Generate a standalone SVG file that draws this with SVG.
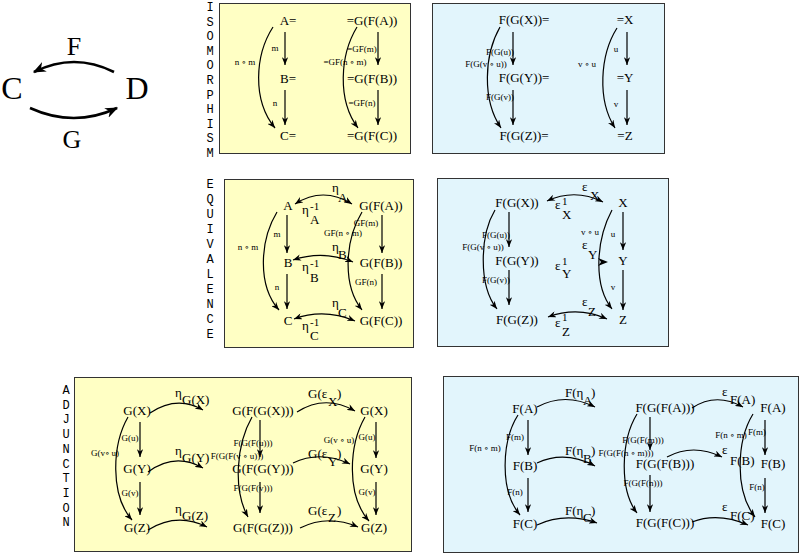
<svg xmlns="http://www.w3.org/2000/svg" width="800" height="555" viewBox="0 0 800 555">
<style>
.b{font-family:"Liberation Serif","DejaVu Serif",serif;font-size:13px;fill:#000}
.m{text-anchor:middle}
.s{font-family:"Liberation Serif","DejaVu Serif",serif;font-size:9px;fill:#000;text-anchor:middle}
.sup{font-size:11px}
.side{font-family:"Liberation Mono","DejaVu Sans Mono",monospace;font-size:12px;text-anchor:middle;fill:#000}
.y{fill:#ffffc4;stroke:#333;stroke-width:1}
.c{fill:#e2f5fc;stroke:#333;stroke-width:1}
.a{fill:none;stroke:#000;stroke-width:1.2;marker-end:url(#ah)}
.d{fill:none;stroke:#000;stroke-width:1.2;marker-end:url(#ah);marker-start:url(#ah)}
.big{fill:none;stroke:#000;stroke-width:2.6;marker-end:url(#bh)}
</style>
<defs>
<marker id="ah" viewBox="0 0 10 8" refX="10" refY="4" markerWidth="8" markerHeight="6.4" markerUnits="userSpaceOnUse" orient="auto-start-reverse">
<path d="M0,0 L10,4 L0,8 L3,4 z" fill="#000"/>
</marker>
<marker id="bh" viewBox="0 0 10 8" refX="9" refY="4" markerWidth="13" markerHeight="10.4" markerUnits="userSpaceOnUse" orient="auto">
<path d="M0,0 L10,4 L0,8 L3,4 z" fill="#000"/>
</marker>
</defs>
<rect width="800" height="555" fill="#fff"/>

<!-- panels -->
<g id="panels">
<rect class="y" x="219.5" y="3.5" width="191" height="150"/>
<rect class="c" x="432.5" y="3.5" width="232" height="150"/>
<rect class="y" x="224.5" y="179.5" width="189" height="168"/>
<rect class="c" x="437.5" y="178.5" width="231" height="168"/>
<rect class="y" x="74.5" y="377.5" width="337" height="174"/>
<rect class="c" x="443.5" y="376.5" width="355" height="176"/>
</g>

<g id="side-labels">
<g id="isomorphism-label" class="side">
<text x="210" y="11">I</text><text x="210" y="25.6">S</text><text x="210" y="40.2">O</text><text x="210" y="54.8">M</text><text x="210" y="69.4">O</text><text x="210" y="84">R</text><text x="210" y="98.6">P</text><text x="210" y="113.2">H</text><text x="210" y="127.8">I</text><text x="210" y="142.4">S</text><text x="210" y="157">M</text>
</g>
<g id="equivalence-label" class="side">
<text x="210" y="188">E</text><text x="210" y="203">Q</text><text x="210" y="218">U</text><text x="210" y="233">I</text><text x="210" y="248">V</text><text x="210" y="263">A</text><text x="210" y="278">L</text><text x="210" y="293">E</text><text x="210" y="308">N</text><text x="210" y="323">C</text><text x="210" y="338">E</text>
</g>
<g id="adjunction-label" class="side">
<text x="66" y="394">A</text><text x="66" y="408.7">D</text><text x="66" y="423.4">J</text><text x="66" y="438.1">U</text><text x="66" y="452.8">N</text><text x="66" y="467.5">C</text><text x="66" y="482.2">T</text><text x="66" y="496.9">I</text><text x="66" y="511.6">O</text><text x="66" y="526.3">N</text>
</g>
</g>

<!-- C / D -->
<g id="node-C"><text class="b m" x="12" y="99" style="font-size:32px">C</text></g>
<g id="node-D"><text class="b m" x="137" y="99" style="font-size:32px">D</text></g>

<!-- isomorphism yellow nodes -->
<g id="iso-A"><text class="b m" x="288" y="25">A=</text></g>
<g id="iso-B"><text class="b m" x="288" y="83">B=</text></g>
<g id="iso-C"><text class="b m" x="288" y="140">C=</text></g>
<g id="iso-GFA"><text class="b m" x="372" y="25">=G(F(A))</text></g>
<g id="iso-GFB"><text class="b m" x="372" y="83">=G(F(B))</text></g>
<g id="iso-GFC"><text class="b m" x="372" y="140">=G(F(C))</text></g>

<!-- isomorphism blue nodes -->
<g id="iso-FGX"><text class="b m" x="524" y="24">F(G(X))=</text></g>
<g id="iso-FGY"><text class="b m" x="524" y="82">F(G(Y))=</text></g>
<g id="iso-FGZ"><text class="b m" x="524" y="140">F(G(Z))=</text></g>
<g id="iso-X"><text class="b m" x="625" y="24">=X</text></g>
<g id="iso-Y"><text class="b m" x="625" y="82">=Y</text></g>
<g id="iso-Z"><text class="b m" x="625" y="140">=Z</text></g>

<!-- equivalence yellow nodes -->
<g id="eq-A"><text class="b m" x="288" y="210">A</text></g>
<g id="eq-B"><text class="b m" x="288" y="267">B</text></g>
<g id="eq-C"><text class="b m" x="288" y="325">C</text></g>
<g id="eq-GFA"><text class="b m" x="381" y="210">G(F(A))</text></g>
<g id="eq-GFB"><text class="b m" x="381" y="267">G(F(B))</text></g>
<g id="eq-GFC"><text class="b m" x="381" y="325">G(F(C))</text></g>

<!-- equivalence blue nodes -->
<g id="eq-FGX"><text class="b m" x="517" y="207">F(G(X))</text></g>
<g id="eq-FGY"><text class="b m" x="517" y="265">F(G(Y))</text></g>
<g id="eq-FGZ"><text class="b m" x="517" y="324">F(G(Z))</text></g>
<g id="eq-X"><text class="b m" x="623" y="207">X</text></g>
<g id="eq-Y"><text class="b m" x="623" y="265">Y</text></g>
<g id="eq-Z"><text class="b m" x="623" y="324">Z</text></g>

<!-- adjunction yellow nodes -->
<g id="adj-GX"><text class="b m" x="137" y="415">G(X)</text></g>
<g id="adj-GY"><text class="b m" x="137" y="473">G(Y)</text></g>
<g id="adj-GZ"><text class="b m" x="137" y="532">G(Z)</text></g>
<g id="adj-GFGX"><text class="b m" x="263" y="415">G(F(G(X)))</text></g>
<g id="adj-GFGY"><text class="b m" x="263" y="473">G(F(G(Y)))</text></g>
<g id="adj-GFGZ"><text class="b m" x="263" y="532">G(F(G(Z)))</text></g>
<g id="adj-GX2"><text class="b m" x="374" y="415">G(X)</text></g>
<g id="adj-GY2"><text class="b m" x="374" y="473">G(Y)</text></g>
<g id="adj-GZ2"><text class="b m" x="374" y="532">G(Z)</text></g>

<!-- adjunction blue nodes -->
<g id="adj-FA"><text class="b m" x="525" y="413">F(A)</text></g>
<g id="adj-FB"><text class="b m" x="525" y="470">F(B)</text></g>
<g id="adj-FC"><text class="b m" x="525" y="528">F(C)</text></g>
<g id="adj-FGFA"><text class="b m" x="665" y="412">F(G(F(A)))</text></g>
<g id="adj-FGFB"><text class="b m" x="665" y="468">F(G(F(B)))</text></g>
<g id="adj-FGFC"><text class="b m" x="665" y="527">F(G(F(C)))</text></g>
<g id="adj-FA2"><text class="b m" x="773" y="412">F(A)</text></g>
<g id="adj-FB2"><text class="b m" x="773" y="468">F(B)</text></g>
<g id="adj-FC2"><text class="b m" x="773" y="528">F(C)</text></g>

<g id="connectors">
<!-- C/D functors -->
<path class="big" d="M114,72 Q74,52 34,72"/>
<path class="big" d="M30,108 Q74,128 117,108"/>
<text class="b m" x="74" y="55" style="font-size:26px">F</text>
<text class="b m" x="72" y="148" style="font-size:26px">G</text>

<!-- iso yellow -->
<path class="a" d="M285,32 L285,65"/>
<path class="a" d="M285,90 L285,125"/>
<path class="a" d="M273,27 C255,55 252,100 275,128"/>
<path class="a" d="M378,32 L378,65"/>
<path class="a" d="M378,90 L378,125"/>
<path class="a" d="M357,27 C340,55 337,100 358,128"/>
<text class="s" x="275" y="51">m</text>
<text class="s" x="275" y="106">n</text>
<text class="s" x="245" y="65">n ∘ m</text>
<text class="s" x="362" y="52">=GF(m)</text>
<text class="s" x="362" y="106">=GF(n)</text>
<text class="s" x="345" y="65">=GF(n ∘ m)</text>

<!-- iso blue -->
<path class="a" d="M513,32 L513,65"/>
<path class="a" d="M513,90 L513,125"/>
<path class="a" d="M500,27 C484,55 482,100 501,128"/>
<path class="a" d="M627,32 L627,65"/>
<path class="a" d="M627,90 L627,125"/>
<path class="a" d="M617,28 C600,55 597,100 615,128"/>
<text class="s" x="500" y="55">F(G(u))</text>
<text class="s" x="500" y="100">F(G(v))</text>
<text class="s" x="486" y="67">F(G(v ∘ u))</text>
<text class="s" x="616" y="52">u</text>
<text class="s" x="616" y="107">v</text>
<text class="s" x="587" y="67">v ∘ u</text>

<!-- eq yellow -->
<path class="a" d="M287,215 L287,253"/>
<path class="a" d="M287,274 L287,309"/>
<path class="a" d="M277,212 C260,240 257,285 279,310"/>
<path class="a" d="M382,215 L382,253"/>
<path class="a" d="M382,274 L382,309"/>
<path class="a" d="M362,212 C345,240 342,285 362,310"/>
<path class="d" d="M295,204 Q323,186 352,204"/>
<path class="d" d="M293,260 Q323,250 353,262"/>
<path class="d" d="M294,319 Q324,308 355,321"/>
<text class="s" x="277" y="237">m</text>
<text class="s" x="277" y="290">n</text>
<text class="s" x="248" y="250">n ∘ m</text>
<text class="s" x="366" y="226">GF(m)</text>
<text class="s" x="366" y="285">GF(n)</text>
<text class="s" x="343" y="236">GF(n ∘ m)</text>
<text class="b" x="332" y="192">η</text><text class="b" x="338" y="202">A</text>
<text class="b" x="302" y="214">η</text><text class="b sup" x="310" y="210">-1</text><text class="b" x="310" y="224">A</text>
<text class="b" x="332" y="251">η</text><text class="b" x="338" y="259">B</text>
<text class="b" x="302" y="271">η</text><text class="b sup" x="310" y="267">-1</text><text class="b" x="310" y="282">B</text>
<text class="b" x="332" y="307">η</text><text class="b" x="338" y="317">C</text>
<text class="b" x="302" y="330">η</text><text class="b sup" x="310" y="326">-1</text><text class="b" x="310" y="340">C</text>

<!-- eq blue -->
<path class="a" d="M509,212 L509,247"/>
<path class="a" d="M509,270 L509,305"/>
<path class="a" d="M495,210 C480,235 478,285 497,309"/>
<path class="a" d="M623,212 L623,250"/>
<path class="a" d="M623,270 L623,310"/>
<path class="a" d="M612,210 C596,240 593,285 612,309"/>
<path class="d" d="M547,201 Q575,188 603,202"/>
<path class="d" d="M548,317 Q578,306 607,319"/>
<path d="M598,258 L608,262 L598,266 L601,262 z" fill="#000"/>
<text class="s" x="496" y="238">F(G(u))</text>
<text class="s" x="496" y="283">F(G(v))</text>
<text class="s" x="483" y="250">F(G(v ∘ u))</text>
<text class="s" x="613" y="237">u</text>
<text class="s" x="613" y="290">v</text>
<text class="s" x="590" y="235">v ∘ u</text>
<text class="b" x="582" y="191">ε</text><text class="b" x="590" y="200">X</text>
<text class="b" x="555" y="209">ε</text><text class="b sup" x="562" y="205">1</text><text class="b" x="562" y="219">X</text>
<text class="b" x="582" y="249">ε</text><text class="b" x="588" y="259">Y</text>
<text class="b" x="555" y="270">ε</text><text class="b sup" x="562" y="265">1</text><text class="b" x="562" y="278">Y</text>
<text class="b" x="582" y="306">ε</text><text class="b" x="588" y="316">Z</text>
<text class="b" x="555" y="327">ε</text><text class="b sup" x="562" y="321">1</text><text class="b" x="562" y="336">Z</text>

<!-- adj yellow -->
<path class="a" d="M140,422 L140,457"/>
<path class="a" d="M140,482 L140,515"/>
<path class="a" d="M128,417 C112,445 110,495 132,520"/>
<path class="a" d="M150,413 Q177,395 203,410"/>
<path class="a" d="M148,472 Q175,452 203,468"/>
<path class="a" d="M148,530 Q177,512 207,527"/>
<path class="a" d="M260,420 L260,457"/>
<path class="a" d="M260,482 L260,513"/>
<path class="a" d="M252,417 C236,445 233,490 248,517"/>
<path class="a" d="M297,412 Q325,394 355,411"/>
<path class="a" d="M293,463 Q320,450 350,464"/>
<path class="a" d="M300,528 Q328,514 358,527"/>
<path class="a" d="M376,422 L376,458"/>
<path class="a" d="M376,482 L376,515"/>
<path class="a" d="M365,417 C349,445 346,495 369,521"/>
<text class="s" x="130" y="441">G(u)</text>
<text class="s" x="130" y="496">G(v)</text>
<text class="s" x="105" y="456">G(v∘ u)</text>
<text class="b" x="175" y="397">η</text><text class="b" x="182" y="404">G(X)</text>
<text class="b" x="175" y="455">η</text><text class="b" x="182" y="462">G(Y)</text>
<text class="b" x="175" y="513">η</text><text class="b" x="182" y="520">G(Z)</text>
<text class="s" x="253" y="446">F(G(F(u)))</text>
<text class="s" x="253" y="491">F(G(F(v)))</text>
<text class="s" x="237" y="459">F(G(F(v ∘ u)))</text>
<text class="b" x="308" y="398">G(ε</text><text class="b" x="328" y="406">X</text><text class="b" x="337" y="398">)</text>
<text class="b" x="308" y="458">G(ε</text><text class="b" x="328" y="466">Y</text><text class="b" x="337" y="458">)</text>
<text class="b" x="308" y="515">G(ε</text><text class="b" x="328" y="522">Z</text><text class="b" x="337" y="515">)</text>
<text class="s" x="367" y="440">G(u)</text>
<text class="s" x="367" y="495">G(v)</text>
<text class="s" x="339" y="443">G(v ∘ u)</text>

<!-- adj blue -->
<path class="a" d="M528,420 L528,455"/>
<path class="a" d="M528,478 L528,512"/>
<path class="a" d="M518,415 C502,440 499,490 520,515"/>
<path class="a" d="M537,407 Q565,392 595,407"/>
<path class="a" d="M537,463 Q565,450 595,466"/>
<path class="a" d="M537,525 Q565,512 597,523"/>
<path class="a" d="M650,417 L650,450"/>
<path class="a" d="M650,475 L650,512"/>
<path class="a" d="M637,414 C621,440 619,490 637,513"/>
<path class="a" d="M692,408 Q716,392 743,407"/>
<path class="a" d="M667,457 Q693,443 722,457"/>
<path class="a" d="M692,522 Q718,512 748,525"/>
<path class="a" d="M765,420 L765,455"/>
<path class="a" d="M765,478 L765,513"/>
<path class="a" d="M753,414 C737,440 734,490 755,517"/>
<text class="s" x="515" y="440">F(m)</text>
<text class="s" x="515" y="495">F(n)</text>
<text class="s" x="485" y="451">F(n ∘ m)</text>
<text class="b" x="565" y="397">F(η</text><text class="b" x="583" y="405">A</text><text class="b" x="591" y="397">)</text>
<text class="b" x="565" y="455">F(η</text><text class="b" x="583" y="463">B</text><text class="b" x="591" y="455">)</text>
<text class="b" x="565" y="515">F(η</text><text class="b" x="583" y="522">C</text><text class="b" x="591" y="515">)</text>
<text class="s" x="643" y="443">F(G(F(m)))</text>
<text class="s" x="643" y="486">F(G(F(n)))</text>
<text class="s" x="626" y="456">F(G(F(n ∘ m)))</text>
<text class="b" x="722" y="396">ε</text><text class="b" x="730" y="404">F(A)</text>
<text class="b" x="722" y="454">ε</text><text class="b" x="730" y="465">F(B)</text>
<text class="b" x="722" y="511">ε</text><text class="b" x="730" y="520">F(C)</text>
<text class="s" x="757" y="435">F(m)</text>
<text class="s" x="757" y="490">F(n)</text>
<text class="s" x="731" y="438">F(n ∘ m)</text>
</g>
</svg>
